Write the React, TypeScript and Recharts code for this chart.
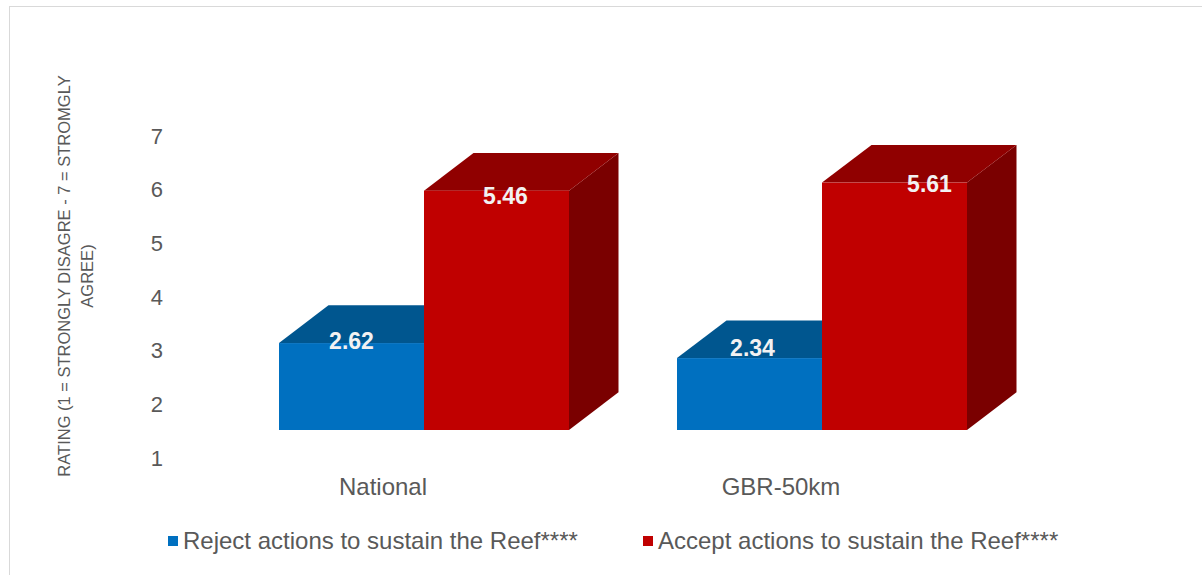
import React from "react";
import { BarChart, Bar, XAxis, YAxis, LabelList } from "recharts";

// ── Data ──────────────────────────────────────────────────────────────────────

const categories = ["National", "GBR-50km"];
const rejectValues = [2.62, 2.34];
const acceptValues = [5.46, 5.61];
const yTicks = [1, 2, 3, 4, 5, 6, 7];
const seriesNames = ["Reject actions to sustain the Reef****", "Accept actions to sustain the Reef****"];

// ── Look ──────────────────────────────────────────────────────────────────────

const FONT = '"Liberation Sans", Arial, sans-serif';
const TEXT = "#595959";
const W = 1193;
const H = 569;

const BLUE = { front: "#0070C0", top: "#00568F", side: "#004A7C" };
const RED = { front: "#C00000", top: "#900000", side: "#7A0000" };

// fake 3D: depth offset and how far the front face sits above the axis base
const DX = 49.5;
const DY = 37.7;
const LIFT = 28;

// label nudges (px) relative to the front-face centre / top
const rejectNudge = [{ dx: 0, dy: -2 }, { dx: 3, dy: -10 }];
const acceptNudge = [{ dx: 9, dy: 5 }, { dx: 35, dy: 1 }];

const data = categories.map((c, i) => ({
  name: c,
  reject: rejectValues[i],
  accept: acceptValues[i],
}));

function makeBox(col: typeof BLUE) {
  return (props: any) => {
    const { x, y, width, height } = props;
    const top = y - LIFT;
    const bottom = y + height - LIFT;
    return (
      <g>
        <polygon
          points={`${x + width},${top} ${x + width + DX},${top - DY} ${x + width + DX},${bottom - DY} ${x + width},${bottom}`}
          fill={col.side}
        />
        <polygon
          points={`${x},${top} ${x + width},${top} ${x + width + DX},${top - DY} ${x + DX},${top - DY}`}
          fill={col.top}
        />
        <rect x={x} y={top} width={width} height={bottom - top} fill={col.front} />
      </g>
    );
  };
}

function makeLabel(nudge: { dx: number; dy: number }[]) {
  return (props: any) => {
    const { x, y, width, value, index } = props;
    const n = nudge[index] || { dx: 0, dy: 0 };
    return (
      <text
        x={x + width / 2 + n.dx}
        y={y - LIFT + n.dy}
        textAnchor="middle"
        dominantBaseline="central"
        fill="#F2F2F2"
        fontFamily={FONT}
        fontWeight="bold"
        fontSize={23}
      >
        {value.toFixed(2)}
      </text>
    );
  };
}

const XTick = (props: any) => {
  const { x, y, payload } = props;
  return (
    <text x={x - 41} y={y + 29} textAnchor="middle" fill={TEXT} fontFamily={FONT} fontSize={24}>
      {payload.value}
    </text>
  );
};

const YTitle = () => {
  const cx = 54;
  const cy = 269;
  return (
    <text
      transform={`rotate(-90, ${cx}, ${cy})`}
      x={cx}
      y={cy}
      textAnchor="middle"
      fill={TEXT}
      fontFamily={FONT}
      fontSize={16.5}
    >
      <tspan x={cx} dy={6}>RATING (1 = STRONGLY DISAGRE - 7 = STROMGLY</tspan>
      <tspan x={cx} dy={23}>AGREE)</tspan>
    </text>
  );
};

function LegendItem({ color, label, left }: { color: string; label: string; left: number }) {
  return (
    <div style={{ position: "absolute", left, top: 520, display: "flex", alignItems: "center" }}>
      <span style={{ width: 10, height: 10, background: color, marginRight: 5 }} />
      <span style={{ color: TEXT, fontFamily: FONT, fontSize: 24 }}>{label}</span>
    </div>
  );
}

export default function App() {
  return (
    <div
      style={{
        position: "fixed",
        left: 9,
        top: 6,
        width: W,
        height: H,
        borderTop: "1px solid #D9D9D9",
        borderLeft: "1px solid #D9D9D9",
        background: "#fff",
      }}
    >
      <BarChart
        width={W}
        height={H}
        data={data}
        margin={{ top: 129, right: 182, bottom: 78, left: 155 }}
        barGap={0}
        barSize={145}
      >
        <XAxis
          dataKey="name"
          axisLine={false}
          tickLine={false}
          height={40}
          tick={<XTick />}
          interval={0}
        />
        <YAxis
          domain={[1, 7]}
          ticks={yTicks}
          width={60}
          axisLine={false}
          tickLine={false}
          tickSize={0}
          tickMargin={62}
          tick={{ fill: TEXT, fontSize: 22, fontFamily: FONT }}
          label={<YTitle />}
        />
        <Bar dataKey="reject" name={seriesNames[0]} fill={BLUE.front} shape={makeBox(BLUE)} isAnimationActive={false}>
          <LabelList dataKey="reject" content={makeLabel(rejectNudge)} />
        </Bar>
        <Bar dataKey="accept" name={seriesNames[1]} fill={RED.front} shape={makeBox(RED)} isAnimationActive={false}>
          <LabelList dataKey="accept" content={makeLabel(acceptNudge)} />
        </Bar>
      </BarChart>
      <LegendItem color={BLUE.front} label={seriesNames[0]} left={158} />
      <LegendItem color={RED.front} label={seriesNames[1]} left={633} />
    </div>
  );
}
